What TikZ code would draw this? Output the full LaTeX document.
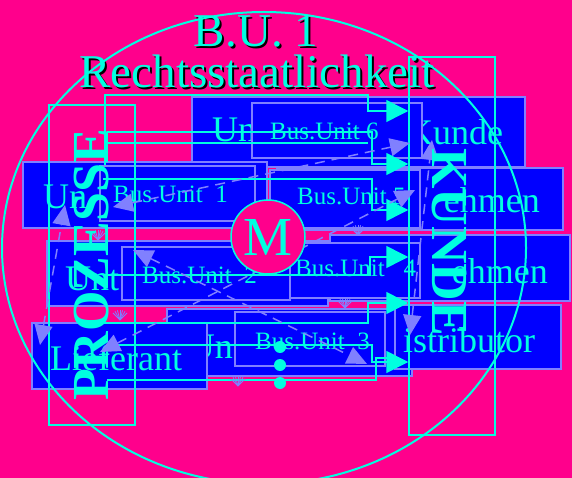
\documentclass[tikz,border=0pt]{standalone}
\usepackage{fontspec}
\setmainfont{Liberation Serif}
\usetikzlibrary{arrows.meta,positioning,calc}
\definecolor{pinkbg}{RGB}{255,0,140}
\definecolor{unitblue}{RGB}{0,0,255}
\definecolor{lavender}{RGB}{128,128,255}
\definecolor{aqua}{RGB}{0,255,224}
\newcommand\shadowed[1]{\leavevmode\rlap{\kern2pt\raisebox{-2pt}{\color{black}#1}}#1}

\begin{document}
\begin{tikzpicture}[
    x=1pt, y=-1pt,
    bigbox/.style={draw=lavender, line width=1.5pt, fill=unitblue, inner sep=0pt},
    busbox/.style={draw=lavender, line width=1.5pt, fill=unitblue, inner sep=0pt},
    boxtext/.style={text=aqua, font=\fontsize{36}{36}\selectfont, inner sep=0pt},
    bustext/.style={text=aqua, font=\fontsize{25}{25}\selectfont, inner sep=0pt},
    sidetext/.style={text=aqua, font=\fontsize{52}{52}\selectfont\bfseries, inner sep=0pt},
    siderect/.style={draw=aqua, line width=1.5pt, inner sep=0pt},
    titletext/.style={text=aqua, font=\fontsize{47}{47}\selectfont, inner sep=0pt, anchor=base},
    flow/.style={draw=aqua, line width=1.5pt},
    flowarrow/.style={flow, -{Triangle[length=22pt,width=22pt]}},
    link/.style={draw=lavender, line width=1.5pt, dash pattern=on 10pt off 7pt,
                 {Triangle[length=20pt,width=18pt]}-{Triangle[length=20pt,width=18pt]}},
    fan/.style={draw=lavender, line width=0.8pt},
    hub/.style={circle, draw=aqua, line width=1.5pt, fill=pinkbg, inner sep=0pt, minimum size=74pt,
                text=aqua, font=\fontsize{55}{55}\selectfont}
]

% Background
\useasboundingbox[fill=pinkbg] (0,0) rectangle (572,478);

% ==================== PARTNER BOXES ====================
\node[bigbox, minimum width=333pt, minimum height=70pt] (kundebox) at (358.5,132) {};
\node[bigbox, minimum width=244pt, minimum height=66pt] (untleft) at (145,195) {};
\node[bigbox, minimum width=286pt, minimum height=62pt] (untright) at (420,199) {};
\node[bigbox, minimum width=281pt, minimum height=65pt] (untmidleft) at (187.5,273.5) {};
\node[bigbox, minimum width=240pt, minimum height=66pt] (untmidright) at (450,268) {};
\node[bigbox, minimum width=245pt, minimum height=67pt] (untlow) at (289.5,342.5) {};
\node[bigbox, minimum width=166pt, minimum height=64pt] (distbox) at (478,337) {};

\node[boxtext, anchor=base west] (kundeA) at (212,142) {Un};
\node[boxtext, anchor=base west] (kundeB) at (407,145) {Kunde};
\node[boxtext, anchor=base west] (untleftT) at (43,209) {Un};
\node[boxtext, anchor=base east] (untrightT) at (540,213) {ehmen};
\node[boxtext, anchor=base west] (untmidleftT) at (65,290) {Unt};
\node[boxtext, anchor=base east] (untmidrightT) at (548,283) {ehmen};
\node[boxtext, anchor=base east] (untlowT) at (233,358) {Un};
\node[boxtext, anchor=base west] (distT) at (403,352) {istributor};

\node[bigbox, minimum width=175pt, minimum height=66pt] (liefbox) at (119.5,356) {};
\node[boxtext, anchor=base west] (liefT) at (50,370) {Lieferant};

% ==================== BUSINESS UNITS ====================
\node[busbox, minimum width=170pt, minimum height=55pt] (bu6) at (337,130.5) {};
\node[busbox, minimum width=155pt, minimum height=55pt] (bu1) at (177.5,193.5) {};
\node[busbox, minimum width=150pt, minimum height=58pt] (bu5) at (345,199) {};
\node[busbox, minimum width=168pt, minimum height=53pt] (bu2) at (206,273.5) {};
\node[busbox, minimum width=130pt, minimum height=55pt] (bu4) at (355,270.5) {};
\node[busbox, minimum width=150pt, minimum height=54pt] (bu3) at (310,339) {};

\node[bustext, anchor=base west] (bu6T) at (270,140) {Bus.Unit 6};
\node[bustext, anchor=base west] (bu1T) at (113,203) {Bus.Unit\ \ 1};
\node[bustext, anchor=base west] (bu5T) at (297,205) {Bus.Unit 5};
\node[bustext, anchor=base west] (bu2T) at (142,283) {Bus.Unit\ \ 2};
\node[bustext, anchor=base west] (bu4T) at (295,276) {Bus.Unit\ \ \ 4};
\node[bustext, anchor=base west] (bu3T) at (255,349) {Bus.Unit\ \ 3};

% ==================== SIDE FRAMES ====================
\node[siderect, minimum width=86pt, minimum height=320pt] (prozrect) at (92,265) {};
\node[siderect, minimum width=86pt, minimum height=378pt] (kunderect) at (452,246) {};

% ==================== FLOWS ====================
\coordinate (f1s) at (105,165); \coordinate (f1b) at (368,95);  \coordinate (f1e) at (368,111);
\coordinate (f2s) at (107,132); \coordinate (f2e) at (372,164);
\coordinate (f3s) at (107,143); \coordinate (f3e) at (368,143);
\coordinate (f4s) at (103,179); \coordinate (f4e) at (372,210);
\coordinate (f5s) at (103,275); \coordinate (f5e) at (370,257);
\coordinate (f6s) at (100,323); \coordinate (f6e) at (368,303);
\coordinate (f7s) at (107,345); \coordinate (f7e) at (372,362);
\coordinate (f8s) at (107,380); \coordinate (f8e) at (376,358);

\draw[flowarrow] (f1s) |- (f1b) -- (f1e) -- (f1e -| kunderect.west);
\draw[flowarrow] (f2s) -| (f2e) -- (f2e -| kunderect.west);
\draw[flow] (f3s) -- (f3e);
\draw[flowarrow] (f4s) -| (f4e) -- (f4e -| kunderect.west);
\draw[flowarrow] (f5s) -| (f5e) -- (f5e -| kunderect.west);
\draw[flowarrow] (f6s) -| (f6e) -- (f6e -| kunderect.west);
\draw[flowarrow] (f7s) -| (f7e) -- (f7e -| kunderect.west);
\draw[flow] (f8s) -| (f8e) -- ++(14,0);

% ==================== LINKS ====================
\coordinate (l1a) at (113,207); \coordinate (l1b) at (410,143);
\coordinate (l2a) at (133,250); \coordinate (l2b) at (367,364);
\coordinate (l3a) at (100,352); \coordinate (l3b) at (415,190);
\coordinate (l4a) at (40,345);  \coordinate (l4b) at (65,205);
\coordinate (l5a) at (410,335); \coordinate (l5b) at (432,140);

\draw[link] (l1a) -- (l1b);
\draw[link] (l2a) -- (l2b);
\draw[link] (l3a) -- (l3b);
\draw[link] (l4a) -- (l4b);
\draw[link] (l5a) -- (l5b);

% small fans
\foreach \fx/\fy in {98/240, 120/320, 345/308, 358/235, 238/386}
  \foreach \a in {-45,-60,...,-135}
    \draw[fan] (\fx,\fy) -- ++(\a:10);

% continuation dots
\foreach \dy [count=\i] in {347,365,383}
  \fill[aqua] (280,\dy) circle (6pt) coordinate (dot\i);

% ==================== SIDE LABELS ====================
\node[sidetext, rotate=90] (prozT) at (prozrect.center) {PROZESSE};
\node[sidetext, rotate=-90] (kundeT) at (449,242) {KUNDE};

% ==================== HUB ====================
\node[hub] (hub) at (268,237) {M};

% ==================== TITLE ====================
\node[titletext] (titleA) at (256,47) {\shadowed{B.U. 1}};
\node[titletext] (titleB) at (257,88) {\shadowed{Rechtsstaatlichkeit}};

% Outer circle
\draw[aqua, line width=2pt] (264,248) ellipse [x radius=262pt, y radius=236pt];

\end{tikzpicture}
\end{document}
